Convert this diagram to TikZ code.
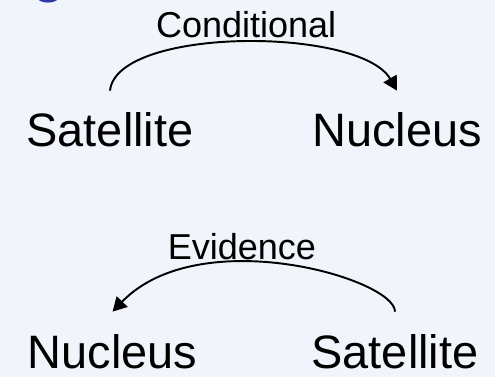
\documentclass[tikz,border=0pt]{standalone}
\usepackage{fontspec}
\setmainfont{Liberation Sans}
\usetikzlibrary{arrows.meta}
\definecolor{slidebg}{RGB}{241,244,250}
\definecolor{titleblue}{RGB}{51,51,170}
\tikzset{
  spanword/.style={font=\fontsize{26.7}{32}\selectfont,
    inner xsep=0pt, inner ysep=0.44cm, anchor=base},
  rellabel/.style={font=\fontsize{20.5}{24}\selectfont, inner sep=0pt},
  relarr/.style={-{Triangle[length=2.8mm, width=3mm]}, line width=1.1pt},
}
\begin{document}
\begin{tikzpicture}
% Slide background
\fill[slidebg] (0,0) rectangle (9.9,-7.54);
\useasboundingbox (0,0) rectangle (9.9,-7.54);

% Title (cut off by the top edge)
\node (title) [anchor=base west, inner sep=0pt, text=titleblue,
  font=\fontsize{31}{36}\selectfont\bfseries] at (-0.02,0.16) {ng};

% Conditional
\node (sat1) [spanword] at (2.2,-2.94) {Satellite};
\node (nuc1) [spanword] at (7.94,-2.94) {Nucleus};
\draw[relarr] (sat1.north) to[out=84, in=120, out distance=1.29cm, in distance=1.48cm]
  node[rellabel, pos=0.51, above=2pt] {Conditional} (nuc1.north);

% Evidence
\node (nuc2) [spanword] at (2.25,-7.36) {Nucleus};
\node (sat2) [spanword] at (7.9,-7.36) {Satellite};
\draw[relarr] (sat2.north) to[out=90, in=46, out distance=0.66cm, in distance=2.5cm]
  node[rellabel, pos=0.62, above=1.5pt] {Evidence} (nuc2.north);
\end{tikzpicture}
\end{document}
